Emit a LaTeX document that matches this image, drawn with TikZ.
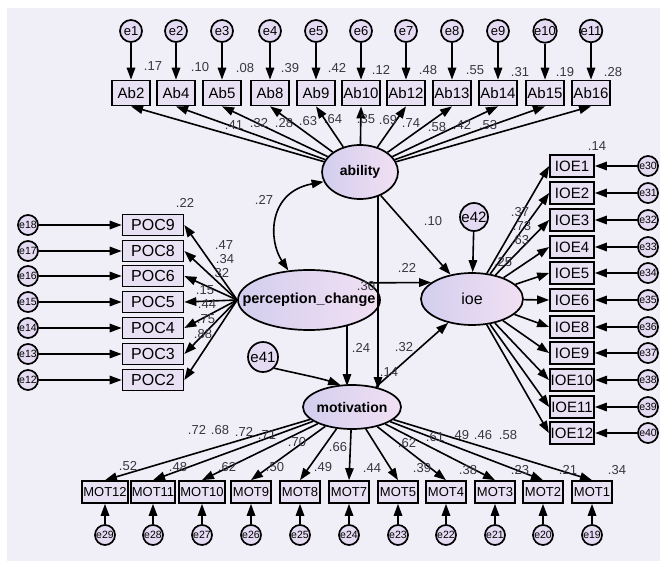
\documentclass[tikz,border=0pt]{standalone}
\usepackage{fontspec}
\setmainfont{Liberation Sans}
\usetikzlibrary{arrows.meta,shapes.geometric,calc}
\definecolor{bgc}{RGB}{240,239,247}
\definecolor{boxfill}{RGB}{232,225,244}
\definecolor{cfill}{RGB}{228,219,242}
\definecolor{elL}{RGB}{210,206,238}
\definecolor{elR}{RGB}{242,224,243}
\definecolor{numc}{RGB}{55,55,65}
\newcommand\myfs[1]{\fontsize{#1}{#1}\selectfont}
\begin{document}
\begin{tikzpicture}[x=1pt,y=-1pt,
  obs/.style={draw, line width=1.7pt, fill=boxfill, rectangle, inner sep=1pt, minimum height=21pt},
  err/.style={draw, line width=1.7pt, fill=cfill, circle, inner sep=0pt, minimum size=22pt, font=\myfs{13}},
  errs/.style={draw, line width=1.7pt, fill=cfill, circle, inner sep=0pt, minimum size=20pt, font=\myfs{10.5}},
  lat/.style={ellipse, draw, line width=1.7pt, left color=elL, right color=elR, inner sep=0pt},
  arr/.style={draw, line width=1.6pt, -{Triangle[length=12pt,width=8.5pt]}},
  darr/.style={draw, line width=1.6pt, {Triangle[length=12pt,width=8.5pt]}-{Triangle[length=12pt,width=8.5pt]}},
  num/.style={text=numc, font=\myfs{13}, inner sep=0pt}
]
\useasboundingbox (0,0) rectangle (660,561);
\fill[white] (0,0) rectangle (660,561);
\fill[bgc] (7,8) rectangle (660,561);

% latent variables
\node[lat, minimum width=76pt, minimum height=54pt] (ability) at (360,172) {\makebox[0pt]{\myfs{14}\bfseries ability}};
\node[lat, minimum width=142pt, minimum height=60pt] (pc) at (309,300) {\makebox[0pt]{\myfs{14.5}\bfseries perception\_change}};
\node[lat, minimum width=102pt, minimum height=52pt] (ioe) at (472,299) {\makebox[0pt]{\myfs{16}ioe}};
\node[lat, minimum width=98pt, minimum height=44pt] (mot) at (352,407) {\makebox[0pt]{\myfs{14}\bfseries motivation}};
\node[draw, line width=1.7pt, fill=cfill, circle, inner sep=0pt, minimum size=28pt, font=\myfs{15}] (e42) at (474,217) {e42};
\node[draw, line width=1.7pt, fill=cfill, circle, inner sep=0pt, minimum size=30pt, font=\myfs{15}] (e41) at (263,357) {e41};

% ability indicators
\foreach \nn/\xx [count=\ii] in {2/131,4/176,5/222,8/270,9/316,10/361,12/406,13/452,14/498,15/545,16/591} {
  \node[obs, minimum width=38pt, minimum height=25pt, font=\myfs{15}] (Ab\nn) at (\xx,93) {Ab\nn};
  \node[err] (e\ii) at (\xx,31) {e\ii};
  \draw[arr] (e\ii) -- (Ab\nn);
  \draw[arr] (ability) -- (Ab\nn.south);
}

% perception_change indicators
\foreach \nn/\yy/\ee in {9/225/18,8/251/17,6/276/16,5/302/15,4/328/14,3/354/13,2/380/12} {
  \node[obs, minimum width=61pt, minimum height=21pt, font=\myfs{16}] (POC\nn) at (153,\yy) {POC\nn};
  \node[errs] (e\ee) at (28,\yy) {e\ee};
  \draw[arr] (e\ee) -- (POC\nn);
  \draw[arr] (pc.west) -- (POC\nn.east);
}

% ioe indicators
\foreach \nn/\yy/\ee in {1/166/30,2/193/31,3/220/32,4/247/33,5/273/34,6/300/35,8/327/36,9/353/37,10/380/38,11/407/39,12/433/40} {
  \node[obs, minimum width=44pt, minimum height=22pt, font=\myfs{15}] (IOE\nn) at (572,\yy) {IOE\nn};
  \node[errs] (e\ee) at (648,\yy) {e\ee};
  \draw[arr] (e\ee) -- (IOE\nn);
  \draw[arr] (ioe) -- (IOE\nn.west);
}

% motivation indicators
\foreach \nn/\xx/\ee in {12/105/29,11/153/28,10/202/27,9/251/26,8/300/25,7/349/24,5/398/23,4/446/22,3/495/21,2/543/20,1/592/19} {
  \node[obs, minimum width=40pt, minimum height=22pt, font=\myfs{13}] (MOT\nn) at (\xx,492) {MOT\nn};
  \node[errs] (e\ee) at (\xx,535) {e\ee};
  \draw[arr] (e\ee) -- (MOT\nn);
  \draw[arr] (mot) -- (MOT\nn.north);
}

% structural paths
\coordinate (abtop) at (378,196);
\coordinate (abbot) at (378,389);
\coordinate (pctop) at (347,325);
\coordinate (pcbot) at (347,386);
\draw[darr] (ability.195) .. controls (268,192) and (268,240) .. (pc.125);
\draw[arr] (ability) -- (ioe);
\draw[arr] (abtop) -- (abbot);
\draw[arr] (pc.16) -- (ioe.158);
\draw[arr] (pctop) -- (pcbot);
\draw[arr] (mot.40) -- (ioe.225);
\draw[arr] (e42) -- (ioe);
\draw[arr] (e41.south east) .. controls (290,372) and (320,378) .. (mot.118);

% numeric labels
\foreach \tt/\xx/\yy [count=\ii] in {.17/153/66,.10/200/67,.08/245/68,.39/290/68,.42/337/68,.12/381/70,.48/428/70,.55/475/70,.31/520/72,.19/565/72,.28/613/72} {
  \node[num] (sq\ii) at (\xx,\yy) {\tt};
}
\foreach \tt/\xx/\yy [count=\ii] in {.41/234/125,.32/259/123,.28/284/123,.63/308/121,.64/333/119,.35/366/119,.69/388/120,.74/411/123,.58/437/127,.42/462/125,.53/488/125} {
  \node[num] (ld\ii) at (\xx,\yy) {\tt};
}
\foreach \tt/\xx/\yy [count=\ii] in {.47/224/245,.34/225/259,.32/220/273,.15/205/290,.44/207/304,.75/206/319,.88/203/334} {
  \node[num] (pl\ii) at (\xx,\yy) {\tt};
}
\foreach \tt/\xx/\yy [count=\ii] in {.72/197/430,.68/220/430,.72/244/432,.71/267/435,.70/297/442,.66/338/447,.62/407/443,.61/435/437,.49/460/435,.46/483/435,.58/508/435} {
  \node[num] (ml\ii) at (\xx,\yy) {\tt};
}
\foreach \tt/\xx/\yy [count=\ii] in {.52/128/466,.48/178/467,.62/227/467,.50/275/467,.49/323/467,.44/372/468,.39/422/468,.38/468/470,.23/520/470,.21/568/470,.34/617/470} {
  \node[num] (ms\ii) at (\xx,\yy) {\tt};
}
\foreach \tt/\xx/\yy [count=\ii] in {.37/520/212,.73/522/226,.63/520/240} {
  \node[num] (il\ii) at (\xx,\yy) {\tt};
}
\node[num] (c27) at (264,200) {.27};
\node[num] (r22) at (185,203) {.22};
\node[num] (p10) at (433,221) {.10};
\node[num] (p22) at (407,268) {.22};
\node[num] (p30) at (366,286) {.30};
\node[num] (p24) at (361,348) {.24};
\node[num] (p32) at (404,347) {.32};
\node[num] (p14) at (389,372) {.14};
\node[num] (r25) at (503,262) {.25};
\node[num] (r14) at (597,146) {.14};
\end{tikzpicture}
\end{document}
